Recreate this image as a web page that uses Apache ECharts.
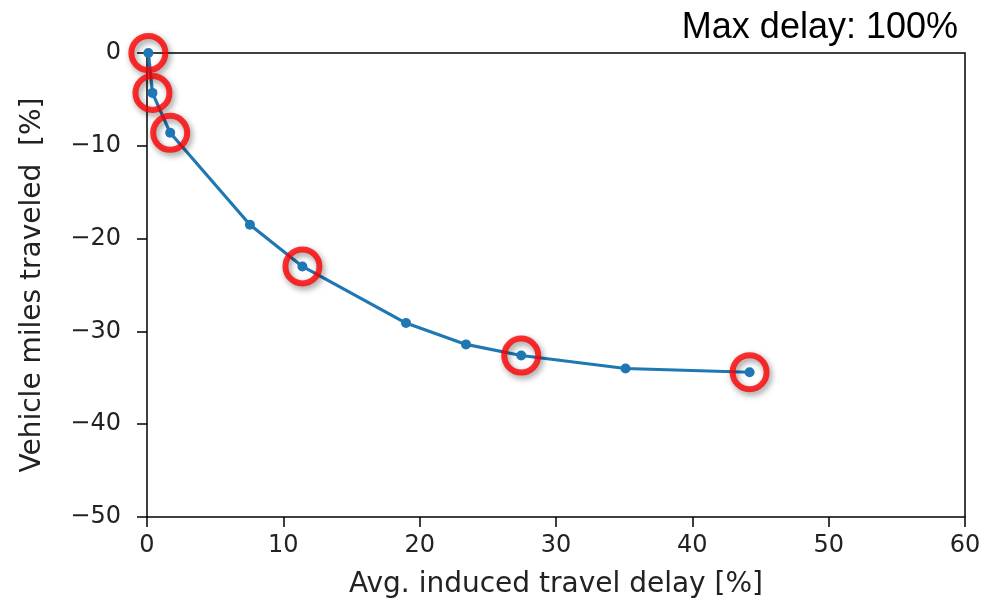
<!DOCTYPE html>
<html>
<head>
<meta charset="utf-8">
<script src="https://cdn.jsdelivr.net/npm/echarts@6/dist/echarts.min.js"></script>
<style>
  html, body { margin: 0; padding: 0; background: #fff; }
  #chart { width: 998px; height: 607px; }
</style>
</head>
<body>
<div id="chart"></div>
<script>
// Induced travel delay vs. change in vehicle miles traveled
const delayPct = [0.1, 0.4, 1.7, 7.55, 11.4, 19.0, 23.4, 27.45, 35.1, 44.2];
const vmtPct   = [0.0, -4.3, -8.6, -18.5, -23.0, -29.1, -31.4, -32.6, -34.0, -34.4];
// indices of the highlighted operating points
const highlighted = [0, 1, 2, 4, 7, 9];

const xTicks = { min: 0, max: 60, interval: 10 };
const yTicks = { min: -50, max: 0, interval: 10 };

const linePoints = delayPct.map((x, i) => [x, vmtPct[i]]);
const ringPoints = highlighted.map(i => [delayPct[i], vmtPct[i]]);

const tickFont = { fontFamily: 'DejaVu Sans', fontSize: 24, color: '#222' };
const nameFont = { fontFamily: 'DejaVu Sans', fontSize: 28, color: '#222' };
const fmt = v => String(v).replace('-', '\u2212');

const chart = echarts.init(document.getElementById('chart'), null, { renderer: 'canvas' });
chart.setOption({
  animation: false,
  backgroundColor: '#fff',
  title: {
    text: 'Max delay: 100%',
    right: 35,
    top: 5,
    textStyle: { fontFamily: 'Liberation Sans', fontSize: 36, fontWeight: 'normal', color: '#000' }
  },
  grid: { left: 147, right: 33, top: 53, bottom: 90, containLabel: false },
  xAxis: {
    type: 'value',
    min: xTicks.min, max: xTicks.max, interval: xTicks.interval,
    name: 'Avg. induced travel delay [%]',
    nameLocation: 'middle',
    nameGap: 54,
    nameTextStyle: nameFont,
    axisLine: { show: true, onZero: false, lineStyle: { color: '#000', width: 1.5 } },
    axisTick: { show: true, inside: false, length: 10, lineStyle: { color: '#000', width: 1.5 } },
    axisLabel: Object.assign({ margin: 17, formatter: fmt }, tickFont),
    splitLine: { show: false }
  },
  yAxis: {
    type: 'value',
    min: yTicks.min, max: yTicks.max, interval: yTicks.interval,
    name: 'Vehicle miles traveled  [%]',
    nameLocation: 'middle',
    nameGap: 100,
    nameRotate: 90,
    nameTextStyle: nameFont,
    axisLine: { show: true, onZero: false, lineStyle: { color: '#000', width: 1.5 } },
    axisTick: { show: true, inside: false, length: 10, lineStyle: { color: '#000', width: 1.5 } },
    axisLabel: Object.assign({ margin: 26, formatter: fmt }, tickFont),
    splitLine: { show: false }
  },
  series: [
    {
      type: 'line',
      data: linePoints,
      smooth: false,
      symbol: 'circle',
      symbolSize: 10,
      showSymbol: true,
      lineStyle: { color: '#1f77b4', width: 3.2 },
      itemStyle: { color: '#1f77b4' },
      z: 3
    },
    {
      type: 'scatter',
      data: ringPoints,
      symbol: 'circle',
      symbolSize: 34,
      clip: false,
      itemStyle: {
        color: 'rgba(0,0,0,0)',
        borderColor: '#ff0000',
        borderWidth: 6,
        shadowBlur: 6,
        shadowColor: 'rgba(0,0,0,0.5)',
        shadowOffsetX: 2,
        shadowOffsetY: 3
      },
      z: 5
    }
  ],
  graphic: [
    {
      // right and top frame lines of the plot box
      type: 'polyline',
      shape: { points: [[147, 53], [965, 53], [965, 517]] },
      style: { stroke: '#000', lineWidth: 1.5, fill: null },
      z: 1
    }
  ]
});
</script>
</body>
</html>
